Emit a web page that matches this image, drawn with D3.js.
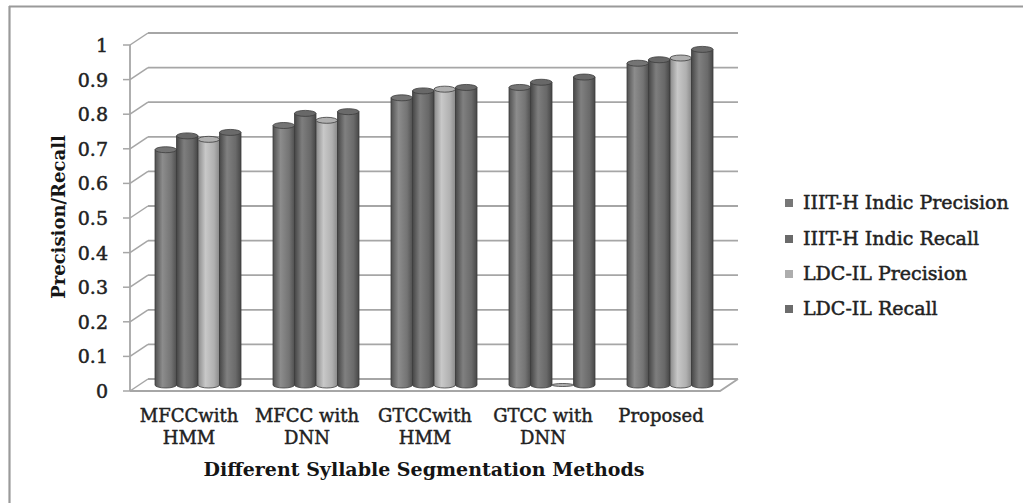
<!DOCTYPE html>
<html><head><meta charset="utf-8">
<script src="https://cdn.jsdelivr.net/npm/d3@7"></script>
<style>body{margin:0;background:#fff}svg{display:block}</style>
</head><body>
<svg id="c" width="1023" height="503"></svg>
<script>
const categories = [["MFCCwith","HMM"],["MFCC with","DNN"],["GTCCwith","HMM"],["GTCC with","DNN"],["Proposed"]];
const seriesNames = ["IIIT-H Indic Precision","IIIT-H Indic Recall","LDC-IL Precision","LDC-IL Recall"];
const iiitPrecision = [0.68, 0.75, 0.83, 0.86, 0.93];
const iiitRecall    = [0.72, 0.785, 0.85, 0.875, 0.94];
const ldcPrecision  = [0.71, 0.765, 0.855, 0.0, 0.945];
const ldcRecall     = [0.73, 0.79, 0.86, 0.89, 0.97];
const yTicks = [0,0.1,0.2,0.3,0.4,0.5,0.6,0.7,0.8,0.9,1];
const yTickLabels = ["0","0.1","0.2","0.3","0.4","0.5","0.6","0.7","0.8","0.9","1"];
const xTitle = "Different Syllable Segmentation Methods";
const yTitle = "Precision/Recall";

const seriesValues = [iiitPrecision, iiitRecall, ldcPrecision, ldcRecall];
const palette = [
  {dark:"#505050", light:"#8c8c8c", mid:"#747474", sw:"#777777"},
  {dark:"#454545", light:"#7e7e7e", mid:"#686868", sw:"#6a6a6a"},
  {dark:"#8a8a8a", light:"#c8c8c8", mid:"#b0b0b0", sw:"#adadad"},
  {dark:"#474747", light:"#808080", mid:"#6a6a6a", sw:"#6c6c6c"}
];

const svg = d3.select("#c");
const FONT = "'DejaVu Serif', serif";
const pLeft = 130, pRight = 720, pTop = 45, pBottom = 391;
const DX = 18, DY = -12;

const y = d3.scaleLinear().domain([0,1]).range([pBottom, pTop]);
const catIdx = d3.range(categories.length);
const x0 = d3.scaleBand().domain(catIdx).range([pLeft, pRight]);
const x1 = d3.scaleBand().domain(d3.range(seriesNames.length)).range([16, x0.bandwidth()-16]);

svg.append("line").attr("x1",9).attr("y1",6.5).attr("x2",1023).attr("y2",6.5).attr("stroke","#9a9a9a").attr("stroke-width",2.2);
svg.append("line").attr("x1",9.5).attr("y1",6).attr("x2",9.5).attr("y2",503).attr("stroke","#9a9a9a").attr("stroke-width",2.2);

const defs = svg.append("defs");
palette.forEach((p,i)=>{
  const g = defs.append("linearGradient").attr("id","g"+i).attr("x1","0").attr("x2","1").attr("y1","0").attr("y2","0");
  g.append("stop").attr("offset","0").attr("stop-color",p.dark);
  g.append("stop").attr("offset","0.35").attr("stop-color",p.light);
  g.append("stop").attr("offset","0.75").attr("stop-color",p.mid);
  g.append("stop").attr("offset","1").attr("stop-color",p.dark);
});

const gridCol = "#a6a6a6";
yTicks.forEach(t=>{
  svg.append("line").attr("x1",pLeft+DX).attr("x2",pRight+DX).attr("y1",y(t)+DY).attr("y2",y(t)+DY)
    .attr("stroke",gridCol).attr("stroke-width",1.8);
  svg.append("line").attr("x1",pLeft).attr("x2",pLeft+DX).attr("y1",y(t)).attr("y2",y(t)+DY)
    .attr("stroke",gridCol).attr("stroke-width",1.5);
});
svg.append("path").attr("d",`M${pLeft},${y(0)}L${pRight},${y(0)}L${pRight+DX},${y(0)+DY}`)
  .attr("fill","none").attr("stroke",gridCol).attr("stroke-width",1.8);
svg.append("line").attr("x1",pLeft).attr("x2",pLeft).attr("y1",y(1)).attr("y2",y(0)).attr("stroke",gridCol).attr("stroke-width",1.8);
yTicks.forEach((t,i)=>{
  svg.append("line").attr("x1",pLeft-7).attr("x2",pLeft).attr("y1",y(t)).attr("y2",y(t)).attr("stroke",gridCol).attr("stroke-width",1.5);
  svg.append("text").attr("x",108).attr("y",y(t)+7).attr("text-anchor","end")
    .attr("font-family",FONT).attr("font-size",19).attr("fill","#222").attr("stroke","#222").attr("stroke-width",0.5)
    .text(yTickLabels[i]);
});

const RY = 3;
catIdx.forEach(ci=>{
  seriesNames.forEach((s,si)=>{
    const v = seriesValues[si][ci];
    const l = x0(ci) + x1(si) + DX/2;
    const w = x1.bandwidth();
    const r = l + w;
    const b = y(0) + DY/2;
    const t = y(v) + DY/2;
    const rx = w/2;
    if (v > 0) {
      svg.append("path")
        .attr("d",`M${l},${t}V${b}A${rx},${RY} 0 0 0 ${r},${b}V${t}Z`)
        .attr("fill",`url(#g${si})`).attr("stroke","#3c3c3c").attr("stroke-width",0.8);
    }
    svg.append("ellipse").attr("cx",l+rx).attr("cy",t).attr("rx",rx).attr("ry",v > 0 ? RY : 1.5)
      .attr("fill",palette[si].mid).attr("stroke","#3c3c3c").attr("stroke-width",0.8);
  });
});

catIdx.forEach(ci=>{
  const cx = x0(ci) + x0.bandwidth()/2;
  categories[ci].forEach((line,li)=>{
    svg.append("text").attr("x",cx).attr("y",422+li*22).attr("text-anchor","middle")
      .attr("font-family",FONT).attr("font-size",18).attr("fill","#222").attr("stroke","#222").attr("stroke-width",0.45)
      .text(line);
  });
});

svg.append("text").attr("x",424).attr("y",476).attr("text-anchor","middle")
  .attr("font-family",FONT).attr("font-size",19).attr("font-weight","bold").attr("fill","#151515").text(xTitle);
svg.append("text").attr("transform","translate(65,217) rotate(-90)").attr("text-anchor","middle")
  .attr("font-family",FONT).attr("font-size",18).attr("font-weight","bold").attr("fill","#151515").text(yTitle);

const legY = [203, 239, 274, 309];
seriesNames.forEach((s,i)=>{
  svg.append("rect").attr("x",785).attr("y",legY[i]-4).attr("width",8).attr("height",8).attr("fill",palette[i].sw);
  svg.append("text").attr("x",803).attr("y",legY[i]+6).attr("font-family",FONT).attr("font-size",19)
    .attr("fill","#222").attr("stroke","#222").attr("stroke-width",0.5).text(s);
});
</script>
</body></html>
